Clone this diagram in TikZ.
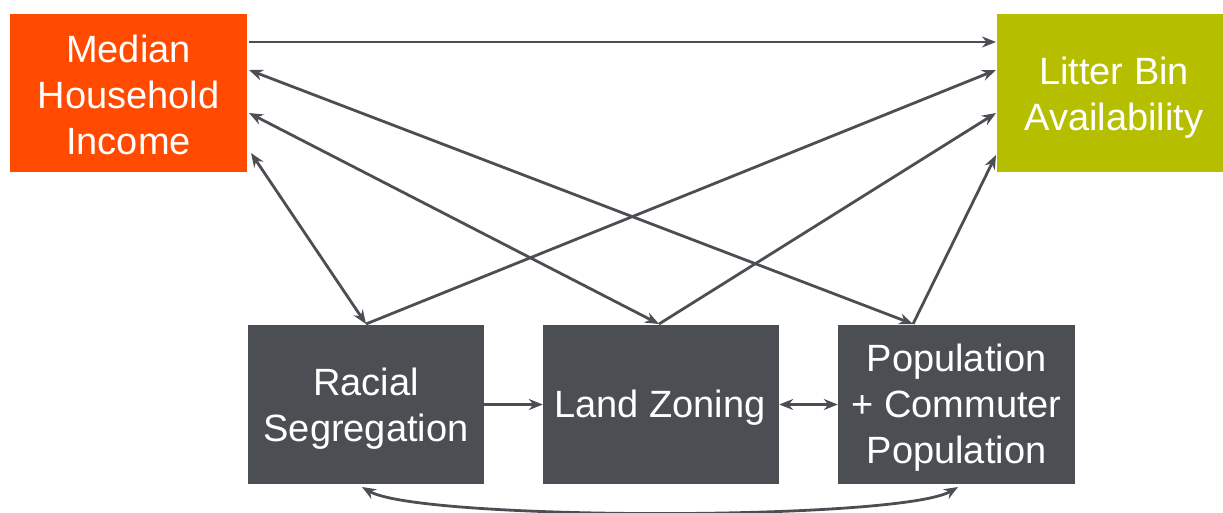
\documentclass[tikz,border=0pt]{standalone}
\usepackage{fontspec}
\setmainfont{Liberation Sans}
\usetikzlibrary{arrows.meta}
\definecolor{mhi}{HTML}{FF4A00}
\definecolor{lba}{HTML}{B5BF00}
\definecolor{dg}{HTML}{4B4F54}
\begin{document}
\begin{tikzpicture}[x=1pt,y=-1pt,
  box/.style={draw=none,inner sep=0pt},
  txt/.style={inner sep=0pt,text=white,align=center,
    font=\fontsize{38}{46}\selectfont},
  conn/.style={draw=dg,line width=2.8pt,-{Stealth[length=14pt,width=11pt]}},
  both/.style={conn,{Stealth[length=14pt,width=11pt]}-{Stealth[length=14pt,width=11pt]}}]
\useasboundingbox (0,0) rectangle (1223,512);
\node[box,fill=mhi,minimum width=237pt,minimum height=158pt] (mhi) at (128.5,93) {};
\node[box,fill=lba,minimum width=226pt,minimum height=158pt] (lba) at (1110,93) {};
\node[box,fill=dg,minimum width=236pt,minimum height=159pt] (rs) at (366,404.5) {};
\node[box,fill=dg,minimum width=236pt,minimum height=159pt] (lz) at (661,404.5) {};
\node[box,fill=dg,minimum width=237pt,minimum height=159pt] (pop) at (956.5,404.5) {};
\node[txt] (mhiT) at (128.5,95) {Median\\Household\\Income};
\node[txt] (lbaT) at (1114,98) {Litter Bin\\Availability};
\node[txt] (rsT) at (366,409) {Racial\\Segregation};
\node[txt] (lzT) at (660,408) {Land Zoning};
\node[txt] (popT) at (956.5,408) {Population\\+ Commuter\\Population};
% coordinates on borders
\coordinate (m1) at (249,42);
\coordinate (m2) at (249,70);
\coordinate (m3) at (249,113);
\coordinate (m4) at (251,153);
\coordinate (l1) at (996,42);
\coordinate (l2) at (996,70);
\coordinate (l3) at (996,113);
\coordinate (l4) at (996,155);
\coordinate (r1) at (366,324);
\coordinate (z1) at (659,324);
\coordinate (p1) at (913,324);
\draw[conn] (m1) -- (l1);
\draw[both] (m2) -- (p1);
\draw[both] (m3) -- (z1);
\draw[both] (m4) -- (r1);
\draw[conn] (r1) -- (l2);
\draw[conn] (z1) -- (l3);
\draw[conn] (p1) -- (l4);
\draw[conn] (rs.east) -- (lz.west);
\draw[both] (lz.east) -- (pop.west);
\coordinate (rb) at (362,487);
\coordinate (pb) at (958,487);
\draw[both] (rb) .. controls (420,521) and (900,521) .. (pb);
\end{tikzpicture}
\end{document}
